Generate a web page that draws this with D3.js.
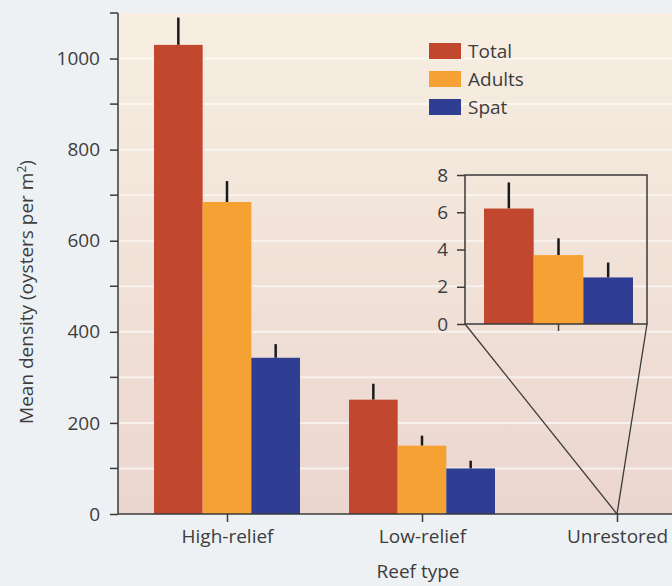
<!DOCTYPE html>
<html>
<head>
<meta charset="utf-8">
<script src="https://cdn.jsdelivr.net/npm/d3@7"></script>
<style>
  body { margin: 0; background: #eef1f4; }
  svg { display: block; font-family: "Open Sans", "Noto Sans", sans-serif; }
</style>
</head>
<body>
<div id="chart"></div>
<script>
// DATA
var reefTypes = ["High-relief", "Low-relief", "Unrestored"]
var seriesNames = ["Total", "Adults", "Spat"]
var seriesColors = ["#c2472f", "#f6a133", "#2f3e92"]
var meanValues = [
    [1030, 685, 343],
    [251, 150, 100],
    [6.2, 3.7, 2.5]
]
var errValues = [
    [60, 46, 30],
    [35, 22, 17],
    [1.4, 0.9, 0.8]
]
var yTicks = [0, 200, 400, 600, 800, 1000]
var insetTicks = [0, 2, 4, 6, 8]

// DIMENSIONS
var svgWidth = 672
var svgHeight = 586
var fontSize = 19
var textColor = "#3d3d3d"
var axisColor = "#3a3a3a"

var svg = d3.select("#chart").append("svg")
    .attr("width", svgWidth)
    .attr("height", svgHeight)

var plot = { left: 118, right: 672, top: 13, bottom: 514 }

var defs = svg.append("defs")
var grad = defs.append("linearGradient")
    .attr("id", "bg")
    .attr("x1", 0).attr("y1", 0).attr("x2", 0).attr("y2", 1)
grad.append("stop").attr("offset", "0%").attr("stop-color", "#f7eee1")
grad.append("stop").attr("offset", "100%").attr("stop-color", "#ebd6cf")

svg.append("rect")
    .attr("x", plot.left)
    .attr("y", plot.top)
    .attr("width", plot.right - plot.left)
    .attr("height", plot.bottom - plot.top)
    .attr("fill", "url(#bg)")

var yScale = d3.scaleLinear().domain([0, 1100]).range([plot.bottom, plot.top])
var xScale = d3.scalePoint().domain(reefTypes).range([227, 617])
var inner = d3.scaleBand().domain(seriesNames).range([-73, 73])
var color = d3.scaleOrdinal().domain(seriesNames).range(seriesColors)

// white gridlines every 100
svg.append("g").selectAll("line")
    .data(d3.range(100, 1100, 100))
    .enter()
    .append("line")
    .attr("x1", plot.left + 1)
    .attr("x2", plot.right)
    .attr("y1", d => yScale(d))
    .attr("y2", d => yScale(d))
    .attr("stroke", "#ffffff")
    .attr("stroke-opacity", 0.6)
    .attr("stroke-width", 2)

// main bars (first two reef types)
var groups = svg.append("g").selectAll("g.grp")
    .data(reefTypes.slice(0, 2))
    .enter()
    .append("g")
    .attr("transform", d => `translate(${xScale(d)},0)`)

groups.each(function(reef, gi) {
    var g = d3.select(this)
    seriesNames.forEach(function(s, si) {
        var v = meanValues[gi][si]
        var e = errValues[gi][si]
        var cx = inner(s) + inner.bandwidth() / 2
        g.append("line")
            .attr("x1", cx).attr("x2", cx)
            .attr("y1", yScale(v)).attr("y2", yScale(v + e))
            .attr("stroke", "#1a1a1a")
            .attr("stroke-width", 2.5)
        g.append("rect")
            .attr("x", inner(s))
            .attr("y", yScale(v))
            .attr("width", inner.bandwidth())
            .attr("height", yScale(0) - yScale(v))
            .attr("fill", color(s))
    })
})

// y axis
var yAxis = d3.axisLeft(yScale).tickValues(yTicks).tickFormat(d3.format("d")).tickSize(8).tickPadding(10)
var yAxisG = svg.append("g")
    .attr("transform", `translate(${plot.left},0)`)
    .call(yAxis)
yAxisG.select(".domain").remove()
yAxisG.append("line")
    .attr("x1", 0).attr("x2", 0)
    .attr("y1", plot.top).attr("y2", plot.bottom)
    .attr("stroke", axisColor).attr("stroke-width", 1.5)
yAxisG.append("line")
    .attr("x1", -8).attr("x2", 0)
    .attr("y1", plot.top).attr("y2", plot.top)
    .attr("stroke", axisColor).attr("stroke-width", 1.5)
yAxisG.selectAll(".tick line").attr("stroke", axisColor).attr("stroke-width", 1.5)
yAxisG.selectAll(".tick text")
    .attr("font-size", fontSize)
    .attr("fill", textColor)
    .attr("font-family", "Open Sans, sans-serif")
yAxisG.selectAll("line.minor")
    .data(d3.range(100, 1100, 200))
    .enter()
    .append("line")
    .attr("class", "minor")
    .attr("x1", -8).attr("x2", 0)
    .attr("y1", d => yScale(d)).attr("y2", d => yScale(d))
    .attr("stroke", axisColor).attr("stroke-width", 1.5)

// x axis
var xAxis = d3.axisBottom(xScale).tickSize(8).tickPadding(8)
var xAxisG = svg.append("g")
    .attr("transform", `translate(0,${plot.bottom})`)
    .call(xAxis)
xAxisG.select(".domain").remove()
xAxisG.append("line")
    .attr("x1", plot.left).attr("x2", plot.right)
    .attr("y1", 0).attr("y2", 0)
    .attr("stroke", axisColor).attr("stroke-width", 1.5)
xAxisG.selectAll(".tick line").attr("stroke", axisColor).attr("stroke-width", 1.5)
xAxisG.selectAll(".tick text")
    .attr("font-size", fontSize)
    .attr("fill", textColor)
    .attr("font-family", "Open Sans, sans-serif")

// axis titles
var yTitle = svg.append("text")
    .attr("transform", `translate(33, 292) rotate(-90)`)
    .attr("text-anchor", "middle")
    .attr("font-size", fontSize)
    .attr("fill", textColor)
yTitle.append("tspan").text("Mean density (oysters per m")
yTitle.append("tspan").attr("dy", -7).attr("font-size", 12).text("2")
yTitle.append("tspan").attr("dy", 7).text(")")

svg.append("text")
    .attr("x", 418)
    .attr("y", 578)
    .attr("text-anchor", "middle")
    .attr("font-size", fontSize)
    .attr("fill", textColor)
    .text("Reef type")

// inset for unrestored reefs
var inset = { left: 465, right: 647, top: 175, bottom: 324 }
var yInset = d3.scaleLinear().domain([0, 8]).range([inset.bottom, inset.top])
var xInset = d3.scaleBand().domain(seriesNames).range([484, 633])
var insetG = svg.append("g")

// lines to unrestored point
var pt = [xScale("Unrestored"), plot.bottom]
insetG.append("line")
    .attr("x1", inset.left).attr("y1", inset.bottom)
    .attr("x2", pt[0]).attr("y2", pt[1])
    .attr("stroke", axisColor).attr("stroke-width", 1.3)
insetG.append("line")
    .attr("x1", inset.right).attr("y1", inset.bottom)
    .attr("x2", pt[0]).attr("y2", pt[1])
    .attr("stroke", axisColor).attr("stroke-width", 1.3)

seriesNames.forEach(function(s, si) {
    var v = meanValues[2][si]
    var e = errValues[2][si]
    var cx = xInset(s) + xInset.bandwidth() / 2
    insetG.append("line")
        .attr("x1", cx).attr("x2", cx)
        .attr("y1", yInset(v)).attr("y2", yInset(v + e))
        .attr("stroke", "#1a1a1a")
        .attr("stroke-width", 2.5)
    insetG.append("rect")
        .attr("x", xInset(s))
        .attr("y", yInset(v))
        .attr("width", xInset.bandwidth())
        .attr("height", yInset(0) - yInset(v))
        .attr("fill", color(s))
})

insetG.append("rect")
    .attr("x", inset.left).attr("y", inset.top)
    .attr("width", inset.right - inset.left)
    .attr("height", inset.bottom - inset.top)
    .attr("fill", "none")
    .attr("stroke", axisColor).attr("stroke-width", 1.5)

var insetAxis = d3.axisLeft(yInset).tickValues(insetTicks).tickSize(8).tickPadding(9)
var insetAxisG = insetG.append("g")
    .attr("transform", `translate(${inset.left},0)`)
    .call(insetAxis)
insetAxisG.select(".domain").remove()
insetAxisG.selectAll(".tick line").attr("stroke", axisColor).attr("stroke-width", 1.5)
insetAxisG.selectAll(".tick text")
    .attr("font-size", fontSize)
    .attr("fill", textColor)
    .attr("font-family", "Open Sans, sans-serif")
insetG.append("line")
    .attr("x1", xInset("Adults") + xInset.bandwidth() / 2)
    .attr("x2", xInset("Adults") + xInset.bandwidth() / 2)
    .attr("y1", inset.bottom).attr("y2", inset.bottom + 7)
    .attr("stroke", axisColor).attr("stroke-width", 1.5)

// legend
var legend = svg.append("g").selectAll("g")
    .data(seriesNames)
    .enter()
    .append("g")
    .attr("transform", (d, i) => `translate(429, ${43 + i * 28})`)
legend.append("rect")
    .attr("width", 32).attr("height", 16)
    .attr("fill", d => color(d))
legend.append("text")
    .attr("x", 39).attr("y", 15)
    .attr("font-size", fontSize)
    .attr("fill", textColor)
    .text(d => d)
</script>
</body>
</html>
